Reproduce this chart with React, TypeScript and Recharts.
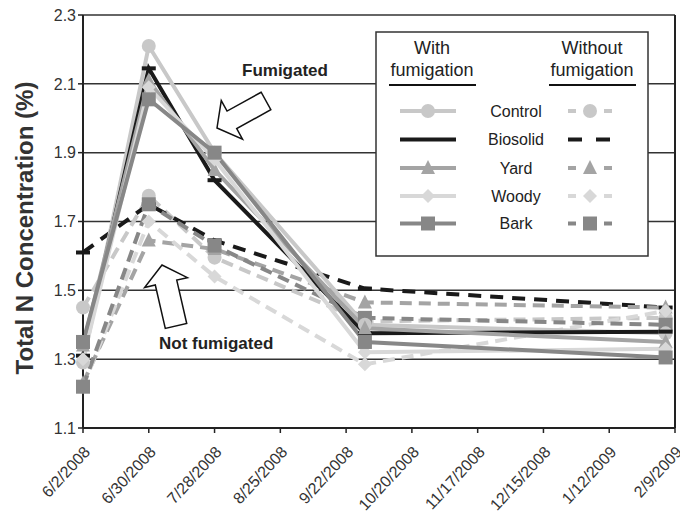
import { LineChart, Line, XAxis, YAxis, CartesianGrid, ReferenceLine } from 'recharts';

// days since 6/2/2008
const days = [0, 28, 56, 120, 248];
const xTicks = [0, 28, 56, 84, 112, 140, 168, 196, 224, 252];
const yTicks = [1.1, 1.3, 1.5, 1.7, 1.9, 2.1, 2.3];

// with fumigation
const controlF = [1.29, 2.21, 1.9, 1.4, 1.375];
const biosolidF = [1.31, 2.145, 1.82, 1.375, 1.38];
const yardF = [1.34, 2.11, 1.85, 1.39, 1.35];
const woodyF = [1.3, 2.09, 1.88, 1.32, 1.33];
const barkF = [1.35, 2.055, 1.9, 1.35, 1.305];

// without fumigation
const controlN = [1.45, 1.775, 1.595, 1.41, 1.42];
const biosolidN = [1.61, 1.75, 1.645, 1.505, 1.45];
const yardN = [1.23, 1.645, 1.62, 1.465, 1.45];
const woodyN = [1.22, 1.7, 1.54, 1.285, 1.44];
const barkN = [1.22, 1.75, 1.63, 1.42, 1.4];

const START = Date.UTC(2008, 5, 2);
const fmtDate = (d: number) => {
  const dt = new Date(START + d * 86400000);
  return `${dt.getUTCMonth() + 1}/${dt.getUTCDate()}/${dt.getUTCFullYear()}`;
};

type Shape = 'circle' | 'bar' | 'triangle' | 'diamond' | 'square';

const treatments: { name: string; color: string; shape: Shape; f: number[]; n: number[]; dash: string }[] = [
  { name: 'Control', color: '#c8c8c8', shape: 'circle', f: controlF, n: controlN, dash: '12 7' },
  { name: 'Biosolid', color: '#1a1a1a', shape: 'bar', f: biosolidF, n: biosolidN, dash: '13 9' },
  { name: 'Yard', color: '#a4a4a4', shape: 'triangle', f: yardF, n: yardN, dash: '12 7' },
  { name: 'Woody', color: '#d8d8d8', shape: 'diamond', f: woodyF, n: woodyN, dash: '12 7' },
  { name: 'Bark', color: '#878787', shape: 'square', f: barkF, n: barkN, dash: '12 7' },
];

const data = days.map((t, i) => {
  const row: Record<string, number> = { t };
  treatments.forEach((s) => {
    row[s.name + 'F'] = s.f[i];
    row[s.name + 'N'] = s.n[i];
  });
  return row;
});

function Marker({ cx, cy, shape, color }: { cx: number; cy: number; shape: Shape; color: string }) {
  switch (shape) {
    case 'circle':
      return <circle cx={cx} cy={cy} r={7} fill={color} />;
    case 'square':
      return <rect x={cx - 7} y={cy - 7} width={14} height={14} fill={color} />;
    case 'triangle':
      return <polygon points={`${cx},${cy - 8} ${cx + 7},${cy + 6} ${cx - 7},${cy + 6}`} fill={color} />;
    case 'diamond':
      return <polygon points={`${cx},${cy - 7} ${cx + 7},${cy} ${cx},${cy + 7} ${cx - 7},${cy}`} fill={color} />;
    default:
      return <rect x={cx - 7} y={cy - 2} width={14} height={4} fill={color} />;
  }
}

const makeDot = (shape: Shape, color: string) => (p: any) =>
  <Marker key={`${p.dataKey}-${p.index}`} cx={p.cx} cy={p.cy} shape={shape} color={color} />;

function DateTick({ x, y, payload }: any) {
  return (
    <g transform={`translate(${x + 4},${y + 14}) rotate(-47)`}>
      <text x={0} y={0} dy="0.35em" textAnchor="end" fontSize={16} fill="#333">
        {fmtDate(payload.value)}
      </text>
    </g>
  );
}

function blockArrow(tail: [number, number], tip: [number, number], headLen: number, headHalf: number, shaftHalf: number) {
  const dx = tip[0] - tail[0];
  const dy = tip[1] - tail[1];
  const len = Math.hypot(dx, dy);
  const ux = dx / len, uy = dy / len;
  const nx = -uy, ny = ux;
  const bx = tip[0] - ux * headLen, by = tip[1] - uy * headLen;
  const pts = [
    [tail[0] + nx * shaftHalf, tail[1] + ny * shaftHalf],
    [bx + nx * shaftHalf, by + ny * shaftHalf],
    [bx + nx * headHalf, by + ny * headHalf],
    tip,
    [bx - nx * headHalf, by - ny * headHalf],
    [bx - nx * shaftHalf, by - ny * shaftHalf],
    [tail[0] - nx * shaftHalf, tail[1] - ny * shaftHalf],
  ];
  return pts.map((p) => `${p[0]},${p[1]}`).join(' ');
}

const legendRows = [111, 139.5, 168, 196, 223.5];

export default function App() {
  const font = '"Liberation Sans", Arial, sans-serif';
  return (
    <div style={{ position: 'absolute', left: 0, top: 0, width: 680, height: 518, background: '#fff', fontFamily: font }}>
      <LineChart width={680} height={518} data={data} margin={{ top: 15, right: 5, left: 0, bottom: 0 }}>
        <CartesianGrid vertical={false} stroke="#333" strokeWidth={1.5} />
        <XAxis
          dataKey="t"
          type="number"
          domain={[0, 252]}
          ticks={xTicks}
          tick={<DateTick />}
          tickSize={5}
          height={90}
          interval={0}
          axisLine={{ stroke: '#222', strokeWidth: 2 }}
          tickLine={{ stroke: '#222', strokeWidth: 1.5 }}
        />
        <YAxis
          type="number"
          domain={[1.1, 2.3]}
          ticks={yTicks}
          width={83}
          interval={0}
          tickFormatter={(v: number) => v.toFixed(1)}
          tick={{ fontSize: 16, fill: '#333', fontFamily: font }}
          tickSize={5}
          axisLine={{ stroke: '#222', strokeWidth: 2 }}
          tickLine={{ stroke: '#222', strokeWidth: 1.5 }}
        />
        <ReferenceLine x={252} stroke="#222" strokeWidth={2} />
        {treatments.map((s) => (
          <Line
            key={s.name + 'N'}
            dataKey={s.name + 'N'}
            stroke={s.color}
            strokeWidth={4}
            strokeDasharray={s.dash}
            dot={makeDot(s.shape, s.color)}
            isAnimationActive={false}
          />
        ))}
        {treatments.map((s) => (
          <Line
            key={s.name + 'F'}
            dataKey={s.name + 'F'}
            stroke={s.color}
            strokeWidth={4}
            dot={makeDot(s.shape, s.color)}
            isAnimationActive={false}
          />
        ))}
      </LineChart>
      <svg width={680} height={518} style={{ position: 'absolute', left: 0, top: 0, pointerEvents: 'none' }}>
        <text
          transform="translate(24,228) rotate(-90)"
          textAnchor="middle"
          dominantBaseline="central"
          fontSize={24}
          fontWeight="bold"
          fill="#333"
          fontFamily={font}
        >
          Total N Concentration (%)
        </text>
        <text x={242} y={76} fontSize={17} fontWeight="bold" fill="#222" fontFamily={font}>
          Fumigated
        </text>
        <polygon points={blockArrow([266, 101], [217, 128], 17, 22, 10)} fill="#fff" stroke="#111" strokeWidth={1.5} />
        <text x={159} y={349} fontSize={17} fontWeight="bold" fill="#222" fontFamily={font}>
          Not fumigated
        </text>
        <polygon points={blockArrow([176, 326], [162, 265], 18, 22, 11)} fill="#fff" stroke="#111" strokeWidth={1.5} />

        <rect x={376} y={32} width={272} height={224} fill="#fff" stroke="#333" strokeWidth={1.5} />
        <g fontFamily={font} fill="#222" textAnchor="middle">
          <text x={432} y={54} fontSize={18}>With</text>
          <text x={432} y={76} fontSize={18}>fumigation</text>
          <text x={592} y={54} fontSize={18}>Without</text>
          <text x={592} y={76} fontSize={18}>fumigation</text>
        </g>
        <line x1={389} x2={476} y1={85} y2={85} stroke="#111" strokeWidth={2} />
        <line x1={549} x2={636} y1={85} y2={85} stroke="#111" strokeWidth={2} />
        {treatments.map((s, i) => {
          const y = legendRows[i];
          return (
            <g key={s.name}>
              <line x1={400} x2={456} y1={y} y2={y} stroke={s.color} strokeWidth={4} />
              {s.shape !== 'bar' && <Marker cx={428} cy={y} shape={s.shape} color={s.color} />}
              <text x={516} y={y} fontSize={16} textAnchor="middle" dominantBaseline="central" fill="#222" fontFamily={font}>
                {s.name}
              </text>
              <line
                x1={568}
                x2={612}
                y1={y}
                y2={y}
                stroke={s.color}
                strokeWidth={4}
                strokeDasharray={s.shape === 'bar' ? '14 14' : '8 28 8'}
              />
              {s.shape !== 'bar' && <Marker cx={590} cy={y} shape={s.shape} color={s.color} />}
            </g>
          );
        })}
      </svg>
    </div>
  );
}
